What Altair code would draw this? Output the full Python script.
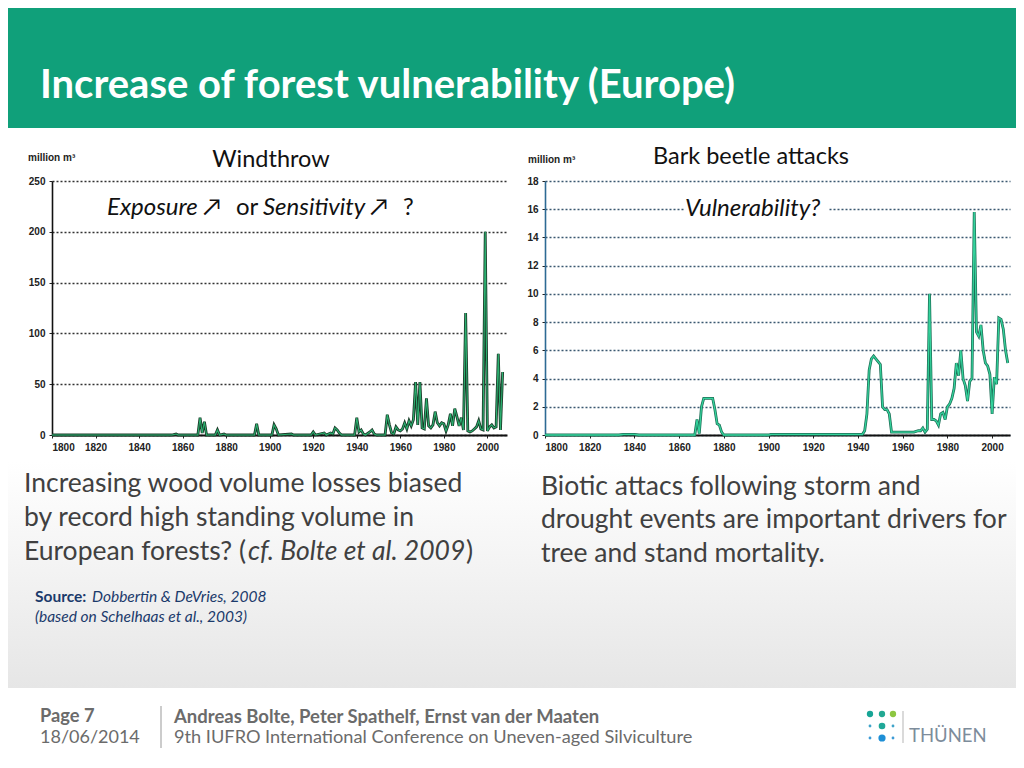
import altair as alt
import pandas as pd

# ---------------- data ----------------
wind_years = [1800, 1855, 1857, 1858, 1867, 1868, 1869, 1870, 1871, 1875, 1876, 1877, 1879, 1880,
              1893, 1894, 1895, 1901, 1902, 1903, 1904, 1910, 1911, 1919, 1920, 1921, 1925, 1926,
              1928, 1929, 1930, 1931, 1932, 1933, 1939, 1940, 1941, 1942, 1943, 1944, 1946, 1947,
              1948, 1949, 1953, 1954, 1955, 1956, 1957, 1958, 1959, 1960, 1961, 1962, 1963, 1964,
              1965, 1966, 1967, 1968, 1969, 1970, 1971, 1972, 1973, 1974, 1975, 1976, 1977, 1978,
              1979, 1980, 1981, 1982, 1983, 1984, 1985, 1986, 1987, 1988, 1989, 1990, 1991, 1992,
              1993, 1994, 1995, 1996, 1997, 1998, 1999, 2000, 2001, 2002, 2003, 2004, 2005, 2006, 2007]
wind_values = [0, 0, 1, 0, 0, 17, 2, 13, 0, 0, 5, 0, 1, 0,
               0, 11, 0, 0, 10, 6, 0, 1, 0, 0, 3, 0, 2, 0,
               2, 1, 7, 5, 2, 0, 0, 17, 3, 5, 1, 0, 3, 5,
               1, 0, 0, 20, 10, 2, 1, 8, 5, 4, 6, 12, 6, 14,
               9, 15, 52, 10, 52, 7, 6, 36, 9, 7, 10, 23, 12, 9,
               12, 11, 4, 10, 21, 9, 26, 18, 9, 17, 5, 120, 4, 3,
               4, 6, 8, 14, 6, 5, 200, 4, 8, 10, 7, 8, 80, 5, 62]

beetle_years = [1800, 1833, 1835, 1840, 1842, 1867, 1868, 1869, 1870, 1871, 1875, 1876, 1877, 1878,
                1879, 1880, 1900, 1901, 1940, 1942, 1943, 1944, 1945, 1946, 1947, 1948, 1949, 1950,
                1951, 1952, 1953, 1954, 1955, 1965, 1967, 1968, 1969, 1970, 1971, 1972, 1973, 1974,
                1975, 1976, 1977, 1978, 1979, 1980, 1981, 1982, 1983, 1984, 1985, 1986, 1987, 1988,
                1989, 1990, 1991, 1992, 1993, 1994, 1995, 1996, 1997, 1998, 1999, 2000, 2001, 2002,
                2003, 2004, 2005, 2006, 2007]
beetle_values = [0, 0, 0.05, 0.05, 0, 0, 1.1, 0.1, 2.0, 2.6, 2.6, 1.8, 0.8, 0.7,
                 0.2, 0, 0, 0.05, 0.05, 0.05, 0.3, 1.5, 4.6, 5.4, 5.6, 5.4, 5.2, 5.0,
                 2.0, 1.8, 1.8, 1.5, 0.2, 0.2, 0.3, 0.3, 0.5, 0.2, 0.4, 10.0, 1.1, 1.1,
                 1.0, 0.7, 1.5, 1.6, 1.1, 2.0, 2.2, 2.6, 3.3, 5.1, 4.2, 6.0, 4.0, 3.5,
                 2.4, 3.8, 4.0, 15.8, 7.3, 7.0, 7.8, 6.0, 5.1, 4.9, 4.3, 1.5, 4.1, 3.6,
                 8.3, 8.2, 7.5, 6.0, 5.1]

x_ticks = [1800, 1820, 1840, 1860, 1880, 1900, 1920, 1940, 1960, 1980, 2000]
wind_ticks = [0, 50, 100, 150, 200, 250]
beetle_ticks = [0, 2, 4, 6, 8, 10, 12, 14, 16, 18]

title_text = "Increase of forest vulnerability (Europe)"
left_lines = ["Increasing wood volume losses biased", "by record high standing volume in"]
right_lines = ["Biotic attacs following storm and", "drought events are important drivers for",
               "tree and stand mortality."]

# ---------------- layout helpers ----------------
OX, OY = 52, 181      # page position of left plot origin
RX = 545              # page x of right plot origin
BODY = "Lato"
AXF = "Liberation Sans Narrow, Liberation Sans"
ONE = pd.DataFrame({"k": [0]})


def txt(px, py, s, size, color="#404040", weight="normal", style="normal",
        font=BODY, align="left", ox=OX):
    return alt.Chart(ONE).mark_text(
        text=s, fontSize=size, color=color, fontWeight=weight, fontStyle=style,
        font=font, align=align, baseline="middle"
    ).encode(x=alt.value(px - ox), y=alt.value(py - OY))


def rect(x1, y1, x2, y2, fill, ox=OX):
    return alt.Chart(ONE).mark_rect(fill=fill, strokeWidth=0).encode(
        x=alt.value(x1 - ox), x2=alt.value(x2 - ox),
        y=alt.value(y1 - OY), y2=alt.value(y2 - OY))


def dot(px, py, size, color):
    return alt.Chart(ONE).mark_circle(size=size, color=color, opacity=1).encode(
        x=alt.value(px - OX), y=alt.value(py - OY))


def encodings(domain_x, domain_y, yticks, grid_color, ydom_color):
    x = alt.X("year:Q",
              scale=alt.Scale(domain=domain_x, nice=False, zero=False),
              axis=alt.Axis(values=x_ticks, format="d", title=None, grid=False,
                            tickSize=3, tickColor="#222", domainColor="#111", domainWidth=2,
                            labelFont=AXF, labelFontWeight="bold", labelFontSize=10,
                            labelColor="#222", labelPadding=4))
    y = alt.Y("value:Q",
              scale=alt.Scale(domain=domain_y, nice=False),
              axis=alt.Axis(values=yticks, title=None, grid=True, gridDash=[2, 2],
                            gridColor=grid_color, gridWidth=1.5, tickSize=3,
                            tickColor="#222", domainColor=ydom_color, domainWidth=1.6,
                            labelFont=AXF, labelFontWeight="bold", labelFontSize=10,
                            labelColor="#222", labelPadding=4))
    return x, y


# ---------------- left panel (windthrow + slide decoration) ----------------
wind_df = pd.DataFrame({"year": wind_years, "value": wind_values})
wx, wy = encodings([1800, 2009], [0, 250], wind_ticks, "#333333", "#111")
wind_dark = alt.Chart(wind_df).mark_line(color="#1b3a28", strokeWidth=2.8).encode(x=wx, y=wy)
wind_light = alt.Chart(wind_df).mark_line(color="#2bb070", strokeWidth=1.1).encode(x=wx, y=wy)

grad = alt.Gradient(gradient="linear",
                    stops=[alt.GradientStop(color="#ffffff", offset=0),
                           alt.GradientStop(color="#e6e6e6", offset=1)],
                    x1=0, x2=0, y1=0, y2=1)

HEAD = "#111111"
deco = [
    rect(8, 8, 1016, 128, "#10a07a"),
    rect(8, 462, 1016, 688, grad),
    rect(8, 688, 1016, 756, "#ffffff"),
    txt(40, 86, title_text, 40, color="#ffffff", weight="bold"),
    txt(28, 158, "million m³", 10, color="#222", weight="bold", font=AXF),
    txt(271, 160, "Windthrow", 23.5, color=HEAD, align="center"),
    txt(107, 208, "Exposure ↗", 24, color=HEAD, style="italic"),
    txt(236, 208, "or", 24, color=HEAD),
    txt(263, 208, "Sensitivity ↗", 24, color=HEAD, style="italic"),
    txt(403, 208, "?", 24, color=HEAD),
    txt(24, 484, left_lines[0], 26.5),
    txt(24, 518, left_lines[1], 26.5),
    txt(24, 552, "European forests? (", 26.5),
    txt(248, 552, "cf. Bolte et al. 2009", 26.5, style="italic"),
    txt(466, 552, ")", 26.5),
    txt(541, 487, right_lines[0], 26.5),
    txt(541, 520, right_lines[1], 26.5),
    txt(541, 554, right_lines[2], 26.5),
    txt(35, 597, "Source:", 15.5, color="#1b3a6b", weight="bold"),
    txt(92, 597, "Dobbertin & DeVries, 2008", 15.5, color="#1b3a6b", style="italic"),
    txt(35, 617, "(based on Schelhaas et al., 2003)", 15.5, color="#1b3a6b", style="italic"),
    txt(40, 717, "Page 7", 18.3, color="#6b6b6b", weight="bold"),
    txt(40, 738, "18/06/2014", 18, color="#6b6b6b"),
    rect(160.5, 706, 161.5, 748, "#9a9a9a"),
    txt(174, 717, "Andreas Bolte, Peter Spathelf, Ernst van der Maaten", 18.5, color="#6b6b6b", weight="bold"),
    txt(174, 738, "9th IUFRO International Conference on Uneven-aged Silviculture", 18.2, color="#6b6b6b"),
    dot(870, 714, 40, "#17a596"),
    dot(882, 714, 40, "#22a892"),
    dot(893, 714, 40, "#8dc641"),
    dot(870, 726, 8, "#3fa3c9"),
    dot(882, 726, 44, "#1fa898"),
    dot(893, 726, 8, "#3fa3c9"),
    dot(870, 738, 8, "#3d9bd6"),
    dot(882, 738, 52, "#1e8fd6"),
    dot(893, 738, 8, "#3d9bd6"),
    rect(902.5, 711, 903.5, 743, "#b5b5b5"),
    txt(909, 736, "THÜNEN", 18.5, color="#7d8c9b"),
]

left = alt.layer(*deco, wind_dark, wind_light).properties(width=455, height=254)

# ---------------- right panel (bark beetle) ----------------
beetle_df = pd.DataFrame({"year": beetle_years, "value": beetle_values})
bx, by = encodings([1800, 2008], [0, 18], beetle_ticks, "#3a5870", "#2d6a94")
beetle_dark = alt.Chart(beetle_df).mark_line(color="#1c6e56", strokeWidth=2.8).encode(x=bx, y=by)
beetle_light = alt.Chart(beetle_df).mark_line(color="#34d39c", strokeWidth=1.3).encode(x=bx, y=by)

right = alt.layer(
    rect(684, 198, 829, 222, "#ffffff", ox=RX),
    beetle_dark, beetle_light,
    txt(528, 160, "million m³", 10, color="#222", weight="bold", font=AXF, ox=RX),
    txt(751, 157, "Bark beetle attacks", 23.5, color=HEAD, align="center", ox=RX),
    txt(685, 209, "Vulnerability?", 24, color=HEAD, style="italic", ox=RX),
).properties(width=465, height=254)

chart = alt.hconcat(left, right, spacing=38, bounds="flush").properties(
    padding=0, background="#ffffff"
).configure_view(strokeWidth=0)

chart.save("out.html", embed_options={"renderer": "svg", "actions": False})
